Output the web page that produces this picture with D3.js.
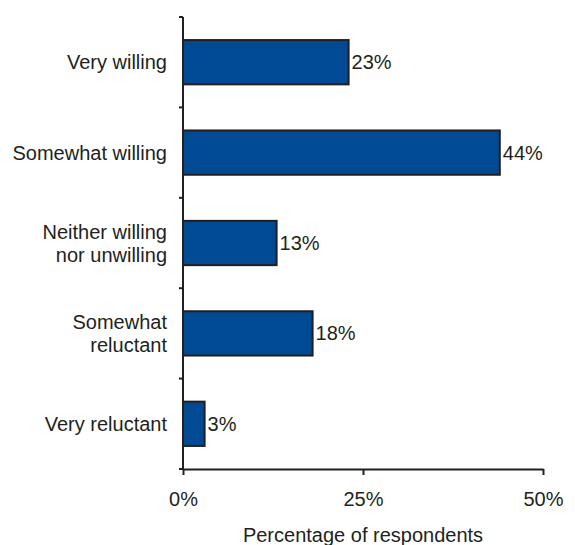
<!DOCTYPE html>
<html>
<head>
<meta charset="utf-8">
<script src="https://cdn.jsdelivr.net/npm/d3@7"></script>
<style>
  html, body { margin: 0; padding: 0; background: #fff; }
  svg { display: block; font-family: "Liberation Sans", Arial, sans-serif; }
</style>
</head>
<body>
<svg id="chart" width="575" height="545"></svg>
<script>
// Survey responses: willingness, share of respondents (%)
const categories = [
  ["Very willing"],
  ["Somewhat willing"],
  ["Neither willing", "nor unwilling"],
  ["Somewhat", "reluctant"],
  ["Very reluctant"]
];
const values = [23, 44, 13, 18, 3];
const xTicks = [0, 25, 50];
const xTitle = "Percentage of respondents";

const svg = d3.select("#chart");
const fontSize = 20;
const x0 = 183, x1 = 543, yTop = 17, yBottom = 469;

const x = d3.scaleLinear().domain([0, 50]).range([x0, x1]);
const y = d3.scaleBand().domain(d3.range(categories.length)).range([yTop, yBottom]);
const step = y.step();
const barH = step * 0.49;

// Bars
svg.append("g").selectAll("rect")
  .data(values)
  .join("rect")
  .attr("x", x(0))
  .attr("y", (d, i) => y(i) + (step - barH) / 2)
  .attr("width", d => x(d) - x(0))
  .attr("height", barH)
  .attr("fill", "#004a93")
  .attr("stroke", "#231f20")
  .attr("stroke-width", 2);

// Value labels
svg.append("g").selectAll("text")
  .data(values)
  .join("text")
  .attr("x", d => x(d) + 3)
  .attr("y", (d, i) => y(i) + step / 2)
  .attr("dy", "0.35em")
  .attr("font-size", fontSize)
  .attr("fill", "#231f20")
  .text(d => d + "%");

// Category labels
const lab = svg.append("g").selectAll("text")
  .data(categories)
  .join("text")
  .attr("text-anchor", "end")
  .attr("font-size", fontSize)
  .attr("fill", "#231f20");
lab.each(function(lines, i) {
  const cy = y(i) + step / 2;
  const lh = 23;
  const start = cy - (lines.length - 1) * lh / 2;
  d3.select(this).selectAll("tspan")
    .data(lines)
    .join("tspan")
    .attr("x", 167)
    .attr("y", (d, j) => start + j * lh)
    .attr("dy", "0.35em")
    .text(d => d);
});

// Y axis line with boundary ticks on the left
const yBounds = d3.range(categories.length + 1).map(i => yTop + i * step);
svg.append("g").selectAll("line")
  .data(yBounds)
  .join("line")
  .attr("x1", x0 - 4).attr("x2", x0)
  .attr("y1", d => d).attr("y2", d => d)
  .attr("stroke", "#231f20").attr("stroke-width", 2);
svg.append("line")
  .attr("x1", x0).attr("x2", x0)
  .attr("y1", yTop).attr("y2", yBottom)
  .attr("stroke", "#231f20").attr("stroke-width", 2);

// X axis
const xAxis = d3.axisBottom(x)
  .tickValues(xTicks)
  .tickSize(6)
  .tickSizeOuter(0)
  .tickPadding(17)
  .tickFormat(d => d + "%");
const gx = svg.append("g")
  .attr("transform", `translate(0,${yBottom})`)
  .call(xAxis);
gx.select(".domain").attr("stroke", "#231f20").attr("stroke-width", 2);
gx.selectAll(".tick line").attr("stroke", "#231f20").attr("stroke-width", 2);
gx.selectAll(".tick text")
  .attr("font-size", fontSize)
  .attr("font-family", "Liberation Sans, Arial, sans-serif")
  .attr("fill", "#231f20");

// X axis title
svg.append("text")
  .attr("x", x(25))
  .attr("y", 542)
  .attr("text-anchor", "middle")
  .attr("font-size", fontSize)
  .attr("fill", "#231f20")
  .text(xTitle);
</script>
</body>
</html>
